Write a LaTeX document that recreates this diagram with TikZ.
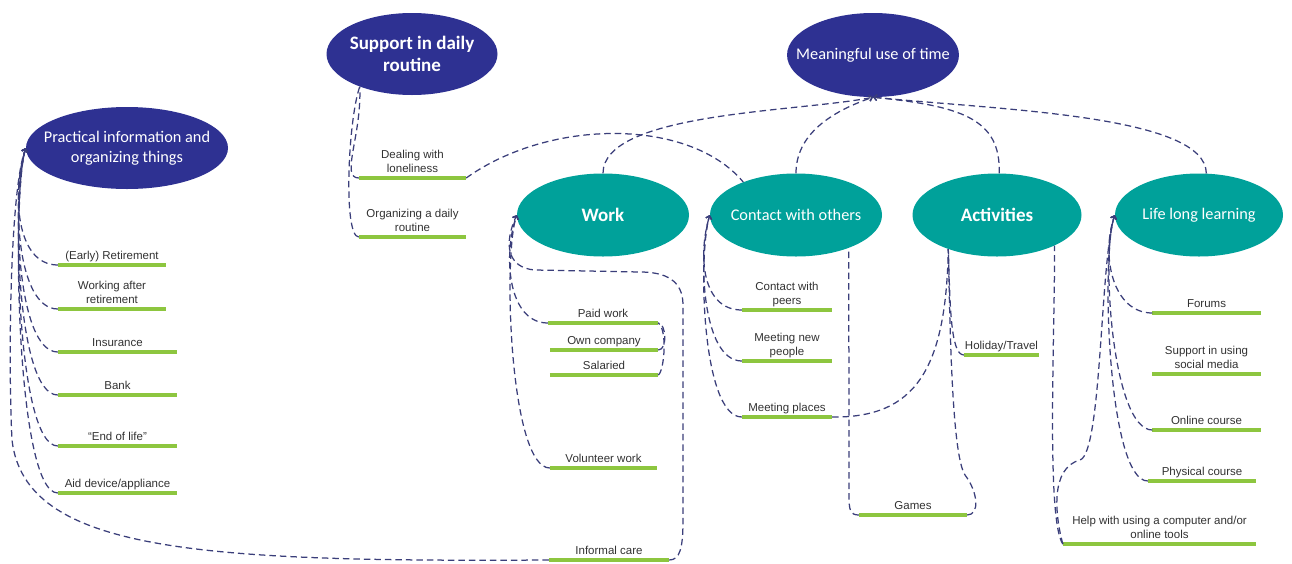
\documentclass[tikz,border=0pt]{standalone}
\usepackage{fontspec}
\setmainfont{Liberation Sans}
\newfontfamily\ellfont{Carlito}
\usetikzlibrary{shapes.geometric,arrows.meta}
\definecolor{darkNavy}{RGB}{46,49,146}
\definecolor{tealGreen}{RGB}{0,161,154}
\definecolor{barGreen}{RGB}{141,198,63}
\definecolor{linkBlue}{RGB}{58,62,122}
\definecolor{labelGray}{RGB}{50,50,50}
\begin{document}
\begin{tikzpicture}[x=1pt,y=-1pt,
    topic/.style={ellipse, fill=darkNavy, text=white, inner xsep=-16pt, inner ysep=0pt, align=center,
      font=\ellfont\fontsize{16.3}{20.5}\selectfont},
    sub/.style={ellipse, fill=tealGreen, text=white, inner xsep=-16pt, inner ysep=0pt, align=center,
      minimum width=172pt, minimum height=83pt, font=\ellfont\fontsize{16.3}{20.5}\selectfont},
    big/.style={font=\ellfont\bfseries\fontsize{19}{22}\selectfont},
    item/.style={anchor=south, align=center, text=labelGray, inner xsep=0pt, inner ysep=2.5pt,
      text depth=2.5pt, minimum width=#1, font=\fontsize{11.5}{14}\selectfont,
      append after command={(\tikzlastnode.south west) edge[draw=barGreen, line width=3.2pt] (\tikzlastnode.south east)}},
    conn/.style={draw=linkBlue, dash pattern=on 6.5pt off 4pt, line width=1.25pt},
    tip/.style={-{Straight Barb[length=3pt,width=6pt]}}]
    \useasboundingbox (0,0) rectangle (1292,563);
    % main topics
    \node[topic, minimum width=202pt, minimum height=82pt] (practical) at (127,148) {Practical information and\\organizing things};
    \node[topic, big, minimum width=171pt, minimum height=82pt] (support) at (412,54) {Support in daily\\routine};
    \node[topic, minimum width=168pt, minimum height=84pt] (meaningful) at (873,55) {Meaningful use of time};
    \node[sub, big] (work) at (603,215) {Work};
    \node[sub] (contact) at (796,215) {Contact with others};
    \node[sub, big, minimum width=169pt] (activities) at (997,215) {Activities};
    \node[sub, minimum width=168pt] (learning) at (1199,215) {Life long learning};
    % items
    \node[item=108pt] (early) at (112,265) {(Early) Retirement};
    \node[item=108pt] (working) at (112,309) {Working after\\retirement};
    \node[item=119pt] (insurance) at (117.5,352) {Insurance};
    \node[item=119pt] (bank) at (117.5,395) {Bank};
    \node[item=119pt] (endlife) at (117.5,446) {“End of life”};
    \node[item=119pt] (aid) at (117.5,493) {Aid device/appliance};
    \node[item=107pt] (dealing) at (412.5,178) {Dealing with\\loneliness};
    \node[item=107pt] (organizing) at (412.5,237) {Organizing a daily\\routine};
    \node[item=110pt] (paid) at (603,323) {Paid work};
    \node[item=108pt] (own) at (604,350) {Own company};
    \node[item=108pt] (salaried) at (604,375) {Salaried};
    \node[item=107pt] (volunteer) at (603.5,468) {Volunteer work};
    \node[item=120pt] (informal) at (609,560) {Informal care};
    \node[item=90pt] (peers) at (787,310) {Contact with\\peers};
    \node[item=90pt] (newpeople) at (787,361) {Meeting new\\people};
    \node[item=90pt] (places) at (787,417) {Meeting places};
    \node[item=75pt] (holiday) at (1001.5,355) {Holiday/Travel};
    \node[item=108pt] (games) at (913,515) {Games};
    \node[item=108pt] (forums) at (1206.5,313) {Forums};
    \node[item=108pt] (social) at (1206.5,374) {Support in using\\social media};
    \node[item=108pt] (online) at (1206.5,430) {Online course};
    \node[item=108pt] (physical) at (1202,481) {Physical course};
    \node[item=193pt] (help) at (1159.5,544) {Help with using a computer and/or\\online tools};
    % links
    \foreach \n in {early,working,insurance,bank,endlife,aid}
      \draw[conn,tip] (\n.south west) .. controls +(-42,0) and +(-14,45) .. (practical.west);
    \draw[conn,tip] (informal.south west) .. controls (200,562) and (25,552) .. (12,440) .. controls (8,360) and (10,190) .. (practical.west);
    \draw[conn] (dealing.south west) .. controls (340,178) and (362,135) .. (support.212);
    \draw[conn] (organizing.south west) .. controls (343,237) and (348,120) .. (support.212);
    \draw[conn] (dealing.south east) .. controls (550,118) and (690,118) .. (contact.148);
    \foreach \n in {paid,volunteer}
      \draw[conn,tip] (\n.south west) .. controls +(-40,0) and +(-14,40) .. (work.west);
    \draw[conn,tip] (informal.south east) .. controls (680,560) and (683,548) .. (683,520) -- (683,305)
      .. controls (683,280) and (665,272) .. (640,272) -- (535,270) .. controls (508,268) and (503,245) .. (work.west);
    \draw[conn] (own.south east) .. controls (668,350) and (666,323) .. (paid.south east);
    \draw[conn] (salaried.south east) .. controls (664,372) and (668,330) .. (paid.south east);
    \foreach \n in {peers,newpeople,places}
      \draw[conn,tip] (\n.south west) .. controls +(-40,0) and +(-12,40) .. (contact.west);
    \draw[conn] (places.south east) .. controls (915,418) and (946,370) .. (activities.215);
    \draw[conn] (holiday.south west) .. controls (950,355) and (950,300) .. (activities.215);
    \draw[conn] (games.south west) .. controls (850,515) and (849,510) .. (849,495) -- (contact.-32);
    \draw[conn] (games.south east) .. controls (980,515) and (978,492) .. (965,475) .. controls (952,455) and (950,330) .. (activities.215);
    \draw[conn] (help.south west) .. controls (1046,520) and (1055,330) .. (activities.-28);
    \foreach \n in {forums,online,physical}
      \draw[conn,tip] (\n.south west) .. controls +(-40,0) and +(-14,40) .. (learning.west);
    \draw[conn,tip] (help.south west) .. controls (1055,515) and (1050,468) .. (1080,460) .. controls (1102,453) and (1100,260) .. (learning.west);
    \draw[conn,tip] (work.north) .. controls (603,112) and (800,112) .. (meaningful.south);
    \draw[conn,tip] (contact.north) .. controls (796,135) and (830,112) .. (meaningful.south);
    \draw[conn,tip] (activities.87) .. controls (1001,118) and (960,106) .. (meaningful.south);
    \draw[conn,tip] (learning.80) .. controls (1206,115) and (1000,110) .. (meaningful.south);
\end{tikzpicture}
\end{document}
